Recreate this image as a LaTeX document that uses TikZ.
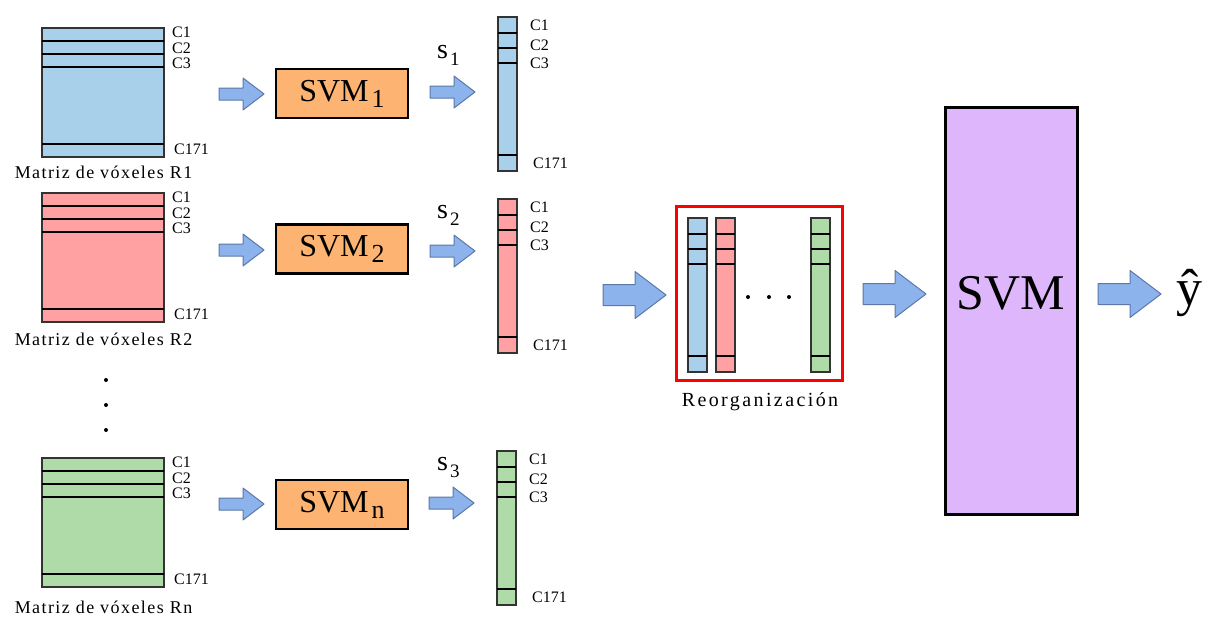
\documentclass[tikz,border=0pt]{standalone}
\usepackage{fontspec}
\setmainfont{Liberation Serif}
\newfontfamily\spacedA[LetterSpace=8]{Liberation Serif}
\newfontfamily\spacedB[LetterSpace=12]{Liberation Serif}
\usetikzlibrary{calc}

\definecolor{cblue}{HTML}{A8D0EA}
\definecolor{cred}{HTML}{FFA0A2}
\definecolor{cgreen}{HTML}{AFDBA9}
\definecolor{corange}{HTML}{FDB473}
\definecolor{cpurple}{HTML}{DDB6FB}
\definecolor{afill}{HTML}{8DB3EC}
\definecolor{aedge}{HTML}{5A78A8}

\tikzset{
  mat/.style={draw=black!80, line width=1.3pt, minimum width=122pt, minimum height=129pt,
    inner sep=0pt, outer sep=0pt, anchor=north west},
  vec/.style={draw=black!80, line width=1.3pt, minimum width=19pt, minimum height=154pt,
    inner sep=0pt, outer sep=0pt, anchor=north west},
  sepline/.style={line width=1.8pt, black},
  clab/.style={font=\fontsize{16}{16}\selectfont, anchor=west, inner sep=0pt},
  mlab/.style={font=\spacedA\fontsize{18}{18}\selectfont, inner sep=0pt},
  svmbox/.style={draw=black, line width=2.5pt, fill=corange, minimum width=132pt,
    minimum height=49pt, inner sep=0pt, font=\fontsize{32}{32}\selectfont},
  slab/.style={font=\fontsize{28}{28}\selectfont, anchor=base west, inner sep=0pt},
  barrow/.style={draw=aedge, fill=afill, line width=1pt, line join=round},
  dotmark/.style={fill=black, draw=none}
}

\newcommand\voxmat[6]{%
  \node[mat, fill=#4] (#1) at (#2,#3) {};
  \foreach \d in {13,26,39,116}{\draw[sepline] ($(#1.north west)+(0,\d)$) -- ($(#1.north east)+(0,\d)$);}
  \node[clab] (#1-c1) at ($(#1.north east)+(8,4)$) {C1};
  \node[clab] (#1-c2) at ($(#1.north east)+(8,20)$) {C2};
  \node[clab] (#1-c3) at ($(#1.north east)+(8,35)$) {C3};
  \node[clab] (#1-c171) at ($(#1.north east)+(10,121)$) {C171};
  \node[mlab, anchor=base] (#1-lab) at (103.5,#5) {#6};
}
\newcommand\vecbar[4]{%
  \node[vec, fill=#4] (#1) at (#2,#3) {};
  \foreach \d in {16,31,46,138}{\draw[sepline] ($(#1.north west)+(0,\d)$) -- ($(#1.north east)+(0,\d)$);}
}
\newcommand\veclabels[1]{%
  \node[clab] (#1-c1) at ($(#1.north east)+(13,8)$) {C1};
  \node[clab] (#1-c2) at ($(#1.north east)+(13,28)$) {C2};
  \node[clab] (#1-c3) at ($(#1.north east)+(13,46)$) {C3};
  \node[clab] (#1-c171) at ($(#1.north east)+(16,146)$) {C171};
}
\newcommand\smallarrow[3]{%
  \coordinate (#1) at (#2,#3);
  \draw[barrow] (#1) ++(0,-6) -- ++(24,0) -- ++(0,-10) -- ++(21,16) -- ++(-21,16) -- ++(0,-10) -- ++(-24,0) -- cycle;
}
\newcommand\bigarrow[3]{%
  \coordinate (#1) at (#2,#3);
  \draw[barrow] (#1) ++(0,-10.5) -- ++(32,0) -- ++(0,-13) -- ++(31,23.5) -- ++(-31,23.5) -- ++(0,-13) -- ++(-32,0) -- cycle;
}

\begin{document}
\begin{tikzpicture}[x=1pt,y=-1pt]
\useasboundingbox (0,0) rectangle (1206,619);

% voxel matrices
\voxmat{m1}{42}{28}{cblue}{178}{Matriz de vóxeles R1}
\voxmat{m2}{42}{193}{cred}{345}{Matriz de vóxeles R2}
\voxmat{m3}{42}{458}{cgreen}{613}{Matriz de vóxeles Rn}

% vertical dots
\fill[dotmark] (106,380) circle (2);
\fill[dotmark] (106,405) circle (2);
\fill[dotmark] (106,430) circle (2);

% arrows to SVMs
\smallarrow{a1}{219}{94}
\smallarrow{a2}{219}{250}
\smallarrow{a3}{219}{504}

% SVM boxes
\node[svmbox] (svm1) at (342,93.5) {SVM\kern3pt\raisebox{-6pt}{\fontsize{26}{26}\selectfont 1}};
\node[svmbox] (svm2) at (342,249) {SVM\kern3pt\raisebox{-6pt}{\fontsize{26}{26}\selectfont 2}};
\node[svmbox] (svm3) at (342,504.5) {SVM\kern3pt\raisebox{-6pt}{\fontsize{26}{26}\selectfont n}};

% arrows to score vectors
\smallarrow{b1}{430}{92}
\smallarrow{b2}{430}{251}
\smallarrow{b3}{429}{503}

% s labels
\node[slab] (s1) at (437,58) {s\kern2pt\raisebox{-7pt}{\fontsize{19}{19}\selectfont 1}};
\node[slab] (s2) at (437,218) {s\kern2pt\raisebox{-7pt}{\fontsize{19}{19}\selectfont 2}};
\node[slab] (s3) at (437,470) {s\kern2pt\raisebox{-7pt}{\fontsize{19}{19}\selectfont 3}};

% score vectors
\vecbar{v1}{498}{17}{cblue}\veclabels{v1}
\vecbar{v2}{498}{199}{cred}\veclabels{v2}
\vecbar{v3}{497}{451}{cgreen}\veclabels{v3}

% arrow to reorganisation
\bigarrow{c1}{603}{295}

% reorganisation box
\node[draw=red, line width=3pt, minimum width=166pt, minimum height=174pt, inner sep=0pt,
  outer sep=0pt, anchor=north west] (reorg) at (676,206) {};
\vecbar{r1}{688}{218}{cblue}
\vecbar{r2}{716}{218}{cred}
\vecbar{r3}{811}{218}{cgreen}
\fill[dotmark] (748,297) circle (2);
\fill[dotmark] (769,297) circle (2);
\fill[dotmark] (789,297) circle (2);
\node[font=\spacedB\fontsize{20}{20}\selectfont, inner sep=0pt] (reorglab) at (760,402) {Reorganización};

% arrow to final SVM
\bigarrow{c2}{863}{294}

% final SVM
\node[draw=black, line width=3pt, fill=cpurple, minimum width=132pt, minimum height=407pt,
  inner sep=0pt, outer sep=0pt, anchor=north west] (svmf) at (945,107) {};
\node[font=\fontsize{50}{50}\selectfont, inner sep=0pt] (svmftxt) at (1011,293) {SVM};

% arrow to output
\bigarrow{c3}{1098}{294}
\node[font=\fontsize{52}{52}\selectfont, inner sep=0pt, anchor=base] (yhat) at (1189,305) {\^{y}};
\end{tikzpicture}
\end{document}
